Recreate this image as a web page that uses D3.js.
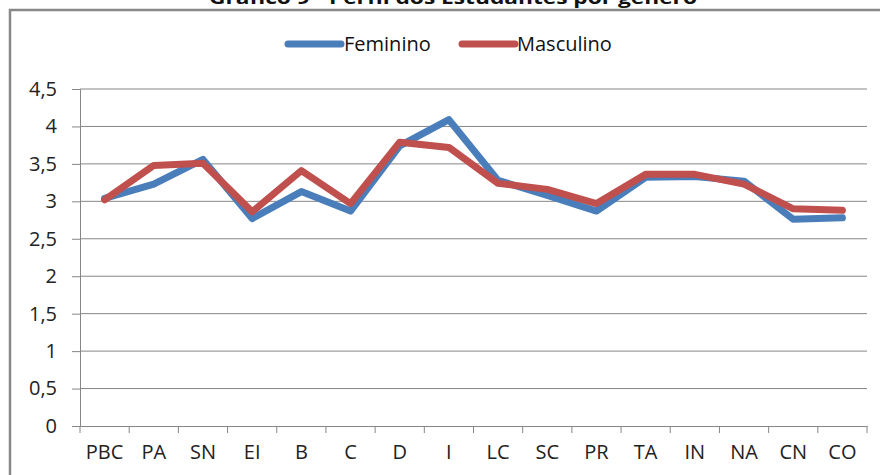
<!DOCTYPE html>
<html><head><meta charset="utf-8">
<script src="https://cdn.jsdelivr.net/npm/d3@7"></script>
<style>body{margin:0;background:#fff;}svg{display:block;}</style>
</head><body>
<svg id="c" width="880" height="475"></svg>
<script>
const categories = ["PBC","PA","SN","EI","B","C","D","I","LC","SC","PR","TA","IN","NA","CN","CO"];
const feminino  = [3.04,3.23,3.56,2.77,3.13,2.87,3.74,4.09,3.28,3.08,2.87,3.32,3.33,3.27,2.76,2.78];
const masculino = [3.02,3.48,3.51,2.86,3.41,2.97,3.79,3.72,3.24,3.16,2.97,3.36,3.36,3.23,2.90,2.88];
const yTicks = [0,0.5,1,1.5,2,2.5,3,3.5,4,4.5];
const seriesNames = ["Feminino","Masculino"];
const colors = ["#4a7ebb","#c0504d"];
const title = "Gráfico 9 - Perfil dos Estudantes por gênero";

const svg = d3.select("#c");
const font = "'Open Sans', 'DejaVu Sans', sans-serif";

// frame
svg.append("rect").attr("x",10).attr("y",10).attr("width",900).attr("height",500)
  .attr("fill","#fff").attr("stroke","#888").attr("stroke-width",2.5);

// title (cut at top, as in the reference)
svg.append("text").attr("x",453).attr("y",4).attr("text-anchor","middle")
  .attr("font-family",font).attr("font-weight","bold").attr("font-size",18)
  .attr("textLength",488).attr("lengthAdjust","spacingAndGlyphs")
  .attr("fill","#111").text(title);

const x = d3.scaleBand().domain(categories).range([80,867]);
const y = d3.scaleLinear().domain([0,4.5]).range([426,89]);

// y axis
const yAxis = d3.axisLeft(y).tickValues(yTicks).tickSize(8).tickPadding(15)
  .tickFormat(d => String(d).replace(".", ","));
const gy = svg.append("g").attr("transform","translate(80,0)").call(yAxis);
gy.select(".domain").attr("stroke","#868686");
gy.selectAll(".tick line").attr("stroke","#868686");
gy.selectAll(".tick text").attr("font-family",font).attr("font-size",20).attr("fill","#222");

// gridlines
svg.append("g").selectAll("line").data(yTicks.filter(d=>d>0)).join("line")
  .attr("x1",80).attr("x2",867).attr("y1",d=>y(d)).attr("y2",d=>y(d))
  .attr("stroke","#868686").attr("stroke-width",1);

// x axis
const xAxis = d3.axisBottom(x).tickSize(0).tickPadding(19);
const gx = svg.append("g").attr("transform","translate(0,426)").call(xAxis);
gx.select(".domain").attr("stroke","#868686");
gx.selectAll(".tick text").attr("font-family",font).attr("font-size",20).attr("fill","#222");
const bounds = categories.map(c => x(c)).concat([x(categories[categories.length-1]) + x.bandwidth()]);
svg.append("g").selectAll("line").data(bounds).join("line")
  .attr("x1",d=>d).attr("x2",d=>d).attr("y1",426).attr("y2",433)
  .attr("stroke","#868686");

// lines
const line = d3.line().x((d,i)=>x(categories[i]) + x.bandwidth()/2).y(d=>y(d));
[feminino, masculino].forEach((s,i)=>{
  svg.append("path").datum(s).attr("d",line).attr("fill","none")
    .attr("stroke",colors[i]).attr("stroke-width",7)
    .attr("stroke-linejoin","round").attr("stroke-linecap","round");
});

// legend
const legendItems = [{x1:288,x2:341,tx:344},{x1:462,x2:515,tx:517}];
legendItems.forEach((l,i)=>{
  svg.append("line").attr("x1",l.x1).attr("x2",l.x2).attr("y1",44).attr("y2",44)
    .attr("stroke",colors[i]).attr("stroke-width",7).attr("stroke-linecap","round");
  svg.append("text").attr("x",l.tx).attr("y",51).attr("font-family",font)
    .attr("font-size",20).attr("fill","#111").text(seriesNames[i]);
});
</script>
</body></html>
